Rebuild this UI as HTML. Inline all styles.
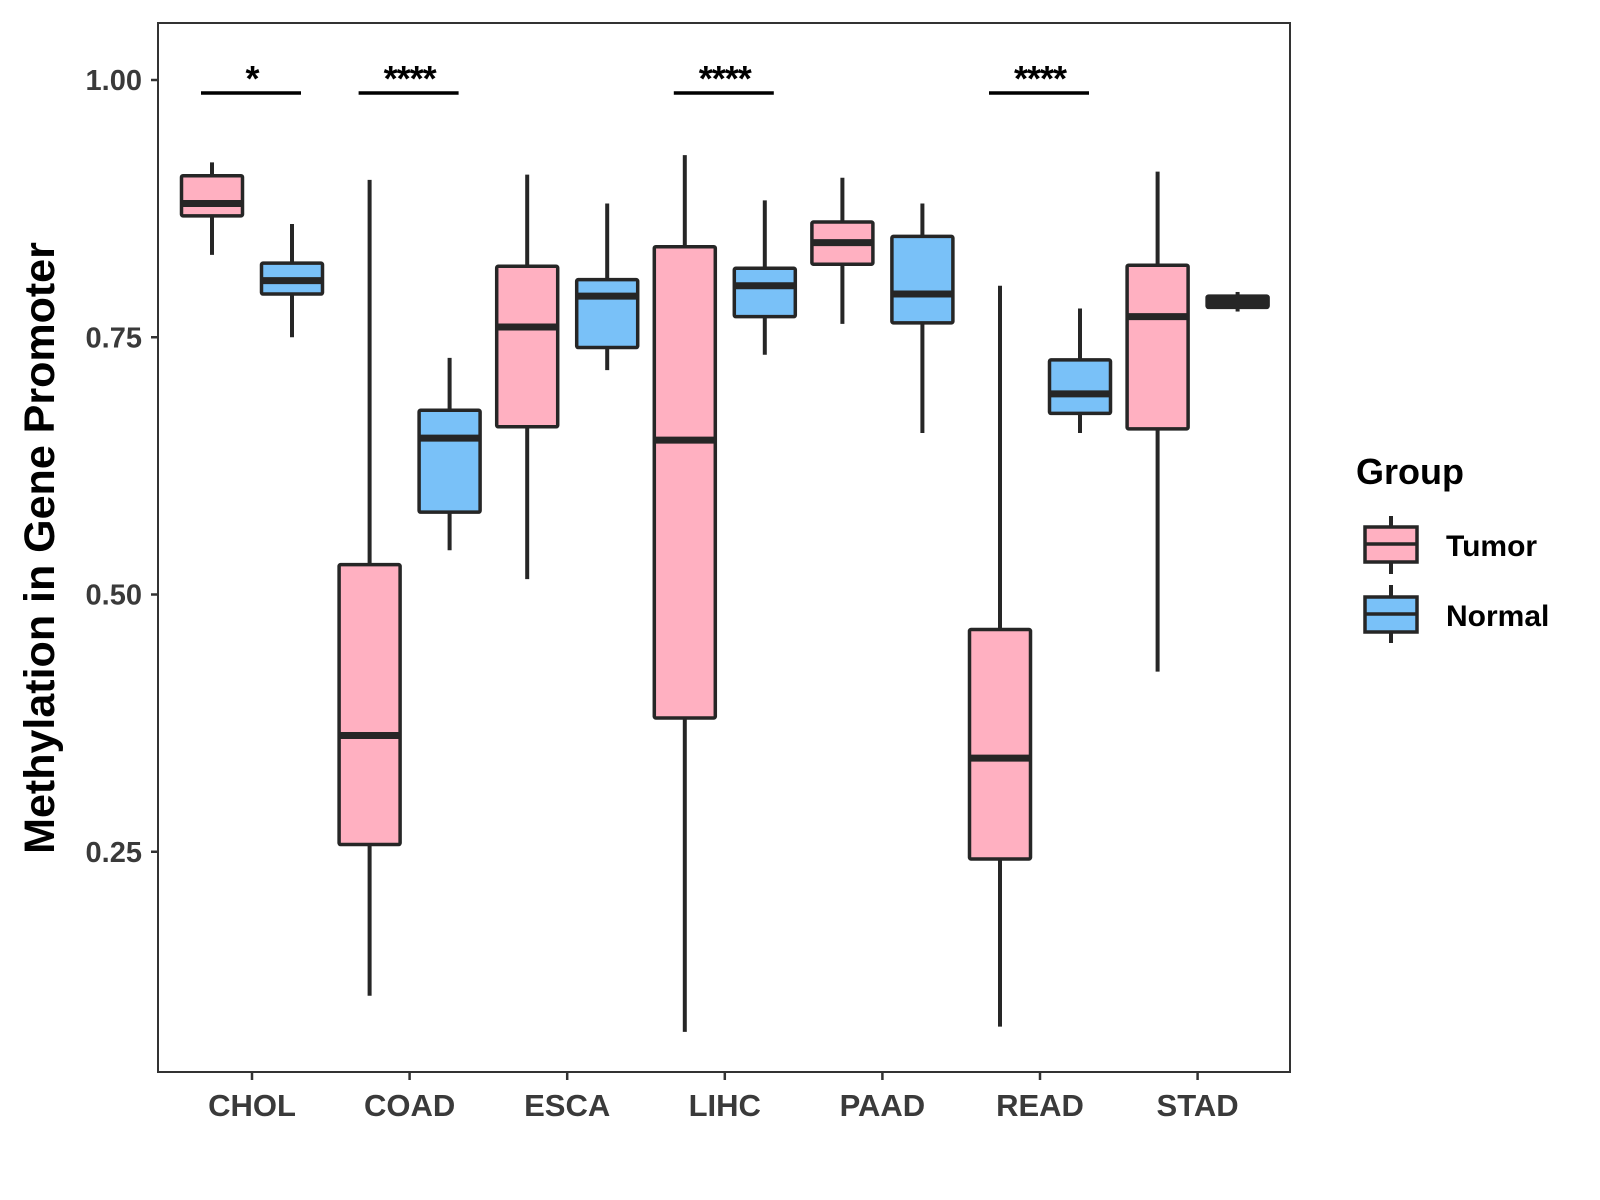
<!DOCTYPE html>
<html><head><meta charset="utf-8"><style>
body{margin:0;background:#fff;}
svg{display:block;font-family:"Liberation Sans",Arial,sans-serif;font-weight:bold;}
</style></head><body>
<svg id="chart" width="1600" height="1200" viewBox="0 0 1600 1200">
<rect x="0" y="0" width="1600" height="1200" fill="#fff"/>
<g id="plot"></g>
<rect x="158" y="23" width="1132" height="1049" fill="none" stroke="#333" stroke-width="2"/>
<text transform="translate(54,548) rotate(-90)" text-anchor="middle" font-size="43" fill="#000">Methylation in Gene Promoter</text>
<g transform="translate(-6,0)">
<text x="1362" y="484" font-size="36" fill="#000">Group</text>
<g>
<line x1="1397" y1="516" x2="1397" y2="574" stroke="#262626" stroke-width="4"/>
<rect x="1371" y="527" width="52" height="35" fill="#FFB0C1" stroke="#262626" stroke-width="3.5"/>
<line x1="1371" y1="544" x2="1423" y2="544" stroke="#262626" stroke-width="3.5"/>
<text x="1452" y="556" font-size="30" fill="#000">Tumor</text></g>
<g>
<line x1="1397" y1="585" x2="1397" y2="643" stroke="#262626" stroke-width="4"/>
<rect x="1371" y="597" width="52" height="35" fill="#79C1F8" stroke="#262626" stroke-width="3.5"/>
<line x1="1371" y1="614" x2="1423" y2="614" stroke="#262626" stroke-width="3.5"/>
<text x="1452" y="626" font-size="30" fill="#000">Normal</text></g>
</g>
</svg>
<script>
const categories=["CHOL","COAD","ESCA","LIHC","PAAD","READ","STAD"];
const tumorStats=[[0.83,0.868,0.88,0.907,0.92],[0.11,0.257,0.363,0.529,0.903],[0.515,0.663,0.76,0.819,0.908],[0.075,0.38,0.65,0.838,0.927],[0.763,0.821,0.842,0.862,0.905],[0.08,0.243,0.341,0.466,0.8],[0.425,0.661,0.77,0.82,0.911]];
const normalStats=[[0.75,0.792,0.805,0.822,0.86],[0.543,0.58,0.652,0.679,0.73],[0.718,0.74,0.79,0.806,0.88],[0.733,0.77,0.8,0.817,0.883],[0.657,0.764,0.792,0.848,0.88],[0.657,0.676,0.695,0.728,0.778],[0.775,0.779,0.784,0.79,0.794]];
const yTicks=[0.25,0.5,0.75,1.0];
const yTickLabels=["0.25","0.50","0.75","1.00"];
const sigLabels=["*","****","","****","","****",""];
const NS="http://www.w3.org/2000/svg";
const g=document.getElementById('plot');
function yS(v){return 80+(1-v)*1029;}
function xS(i){return 252+i*157.6;}
function mk(t,a,p){const e=document.createElementNS(NS,t);for(const k in a)e.setAttribute(k,a[k]);(p||g).appendChild(e);return e;}
yTicks.forEach((v,i)=>{
 const t=mk('line',{x1:151,x2:158,y1:yS(v),y2:yS(v),stroke:'#333','stroke-width':2.5});
 
 
 const l=mk('text',{x:142,y:yS(v)+10,'text-anchor':'end','font-size':29,fill:'#3a3a3a'});
 l.textContent=yTickLabels[i];
 
 
});
categories.forEach((c,i)=>{
 const x=xS(i);
 const t=mk('line',{x1:x,x2:x,y1:1072,y2:1080,stroke:'#333','stroke-width':2.5});
 
 
 const l=mk('text',{x:x,y:1116,'text-anchor':'middle','font-size':31,fill:'#3a3a3a'});
 l.textContent=c;
 
 
 [[tumorStats[i],-40,'#FFB0C1','tumor'],[normalStats[i],40,'#79C1F8','normal']].forEach(([s,off,col,nm])=>{
  const cx=x+off,w=61;
  const grp=mk('g',{});
  
  
  mk('line',{x1:cx,x2:cx,y1:yS(s[4]),y2:yS(s[0]),stroke:'#262626','stroke-width':4},grp);
  const h=yS(s[1])-yS(s[3]);
  mk('rect',{x:cx-w/2,y:yS(s[3]),width:w,height:Math.max(h,1),fill:h<16?'#262626':col,stroke:'#262626','stroke-width':3.5,rx:1.5},grp);
  mk('line',{x1:cx-w/2,x2:cx+w/2,y1:yS(s[2]),y2:yS(s[2]),stroke:'#262626','stroke-width':7},grp);
 });
 if(sigLabels[i]){
  const b=mk('line',{x1:x-51,x2:x+49,y1:93,y2:93,stroke:'#000','stroke-width':3.5});
  
  
  const s=mk('text',{x:x,y:91,'text-anchor':'middle','font-size':36,fill:'#000','letter-spacing':'-1'});
  s.textContent=sigLabels[i];
  
  
 }
});
</script>
</body></html>
